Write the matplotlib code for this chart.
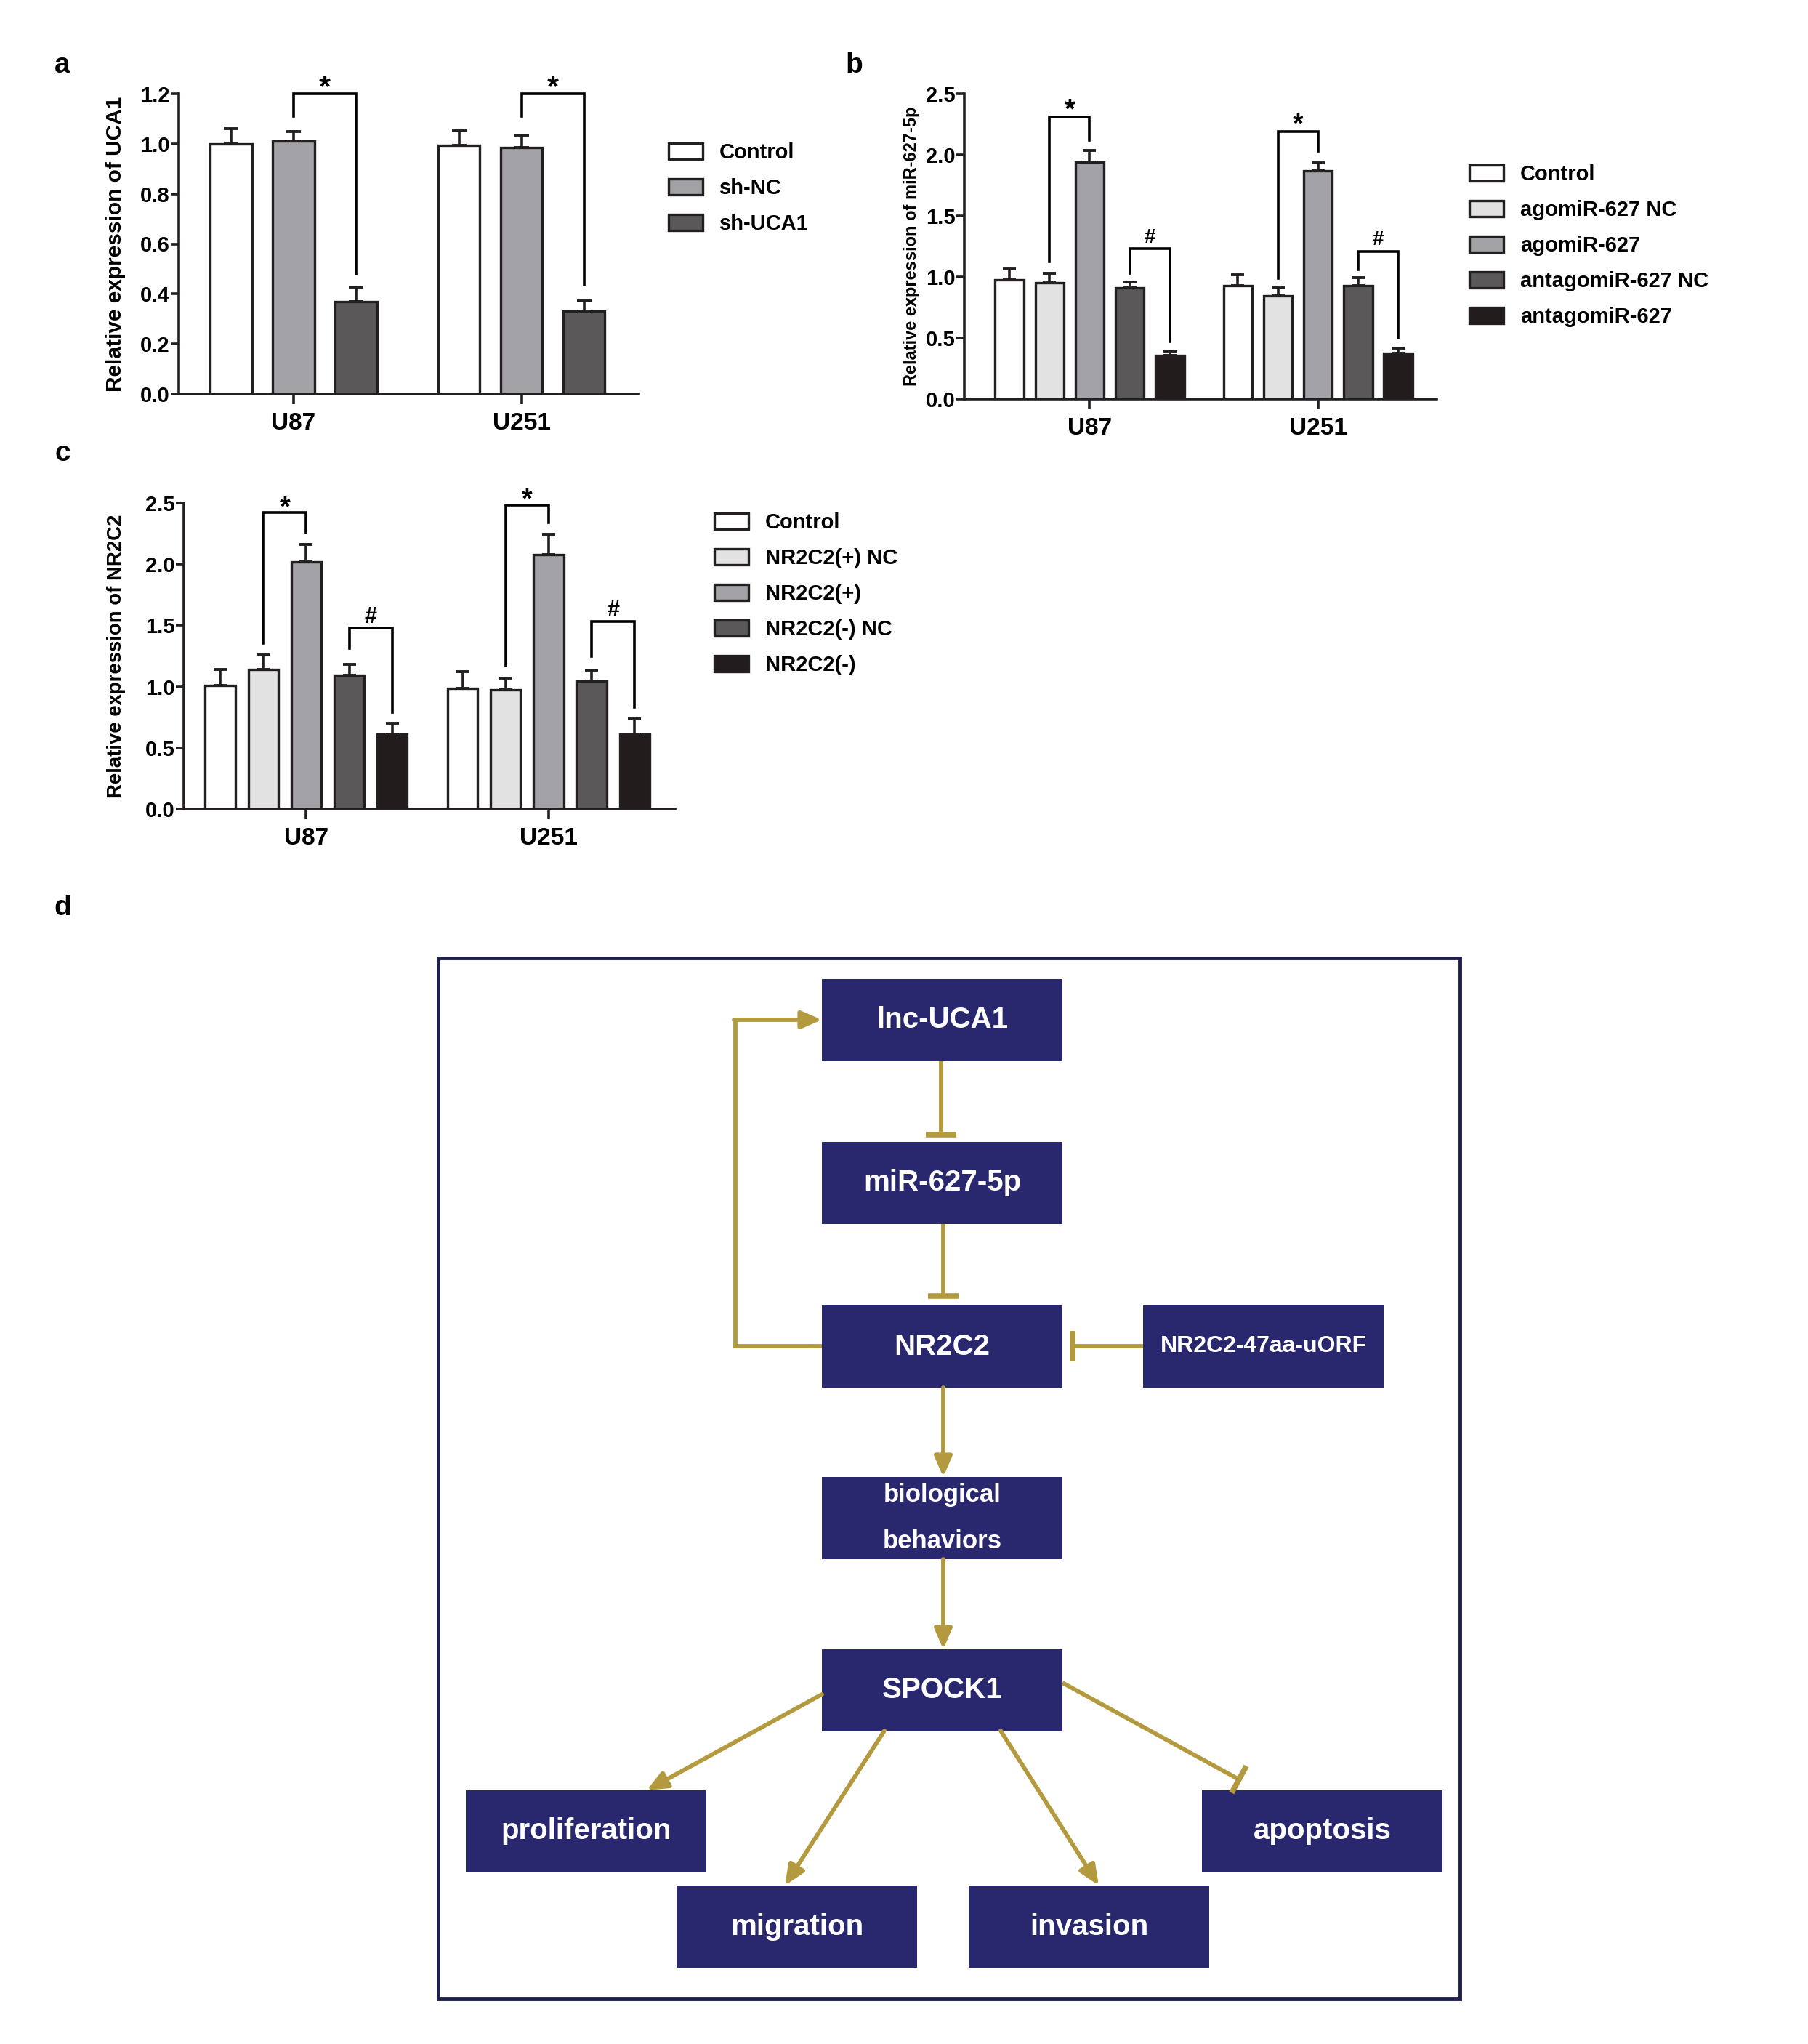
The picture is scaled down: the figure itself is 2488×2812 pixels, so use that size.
import numpy as np
import matplotlib
matplotlib.use("Agg")
import matplotlib.pyplot as plt
from matplotlib.patches import Rectangle, Patch

plt.rcParams['font.family'] = ['Liberation Sans', 'DejaVu Sans']
plt.rcParams['font.weight'] = 'bold'

W, H = 2488, 2812
DPI = 100
EDGE = "#231f20"

cell_lines = ["U87", "U251"]

# ---------------- panel a ----------------
a_labels = ["Control", "sh-NC", "sh-UCA1"]
a_u87 = [1.00, 1.01, 0.37]
a_u87_err = [0.06, 0.04, 0.058]
a_u251 = [0.995, 0.985, 0.33]
a_u251_err = [0.058, 0.05, 0.042]
a_colors = ["#ffffff", "#a3a2a6", "#5a5859"]
a_yticks = [0.0, 0.2, 0.4, 0.6, 0.8, 1.0, 1.2]
a_brackets = [(0, 1, 2, 1.2, 1.11, 0.478, "*"),
              (1, 1, 2, 1.2, 1.11, 0.436, "*")]

# ---------------- panel b ----------------
b_labels = ["Control", "agomiR-627 NC", "agomiR-627", "antagomiR-627 NC", "antagomiR-627"]
b_u87 = [0.975, 0.955, 1.94, 0.91, 0.355]
b_u87_err = [0.09, 0.075, 0.095, 0.047, 0.035]
b_u251 = [0.93, 0.845, 1.87, 0.928, 0.375]
b_u251_err = [0.087, 0.065, 0.063, 0.066, 0.042]
b_colors = ["#ffffff", "#e2e2e2", "#a3a2a6", "#5a5859", "#231c1c"]
b_yticks = [0.0, 0.5, 1.0, 1.5, 2.0, 2.5]
b_brackets = [(0, 1, 2, 2.31, 1.125, 2.12, "*"), (0, 3, 4, 1.23, 1.03, 0.47, "#"),
              (1, 1, 2, 2.19, 0.99, 2.03, "*"), (1, 3, 4, 1.21, 1.06, 0.50, "#")]

# ---------------- panel c ----------------
c_labels = ["Control", "NR2C2(+) NC", "NR2C2(+)", "NR2C2(-) NC", "NR2C2(-)"]
c_u87 = [1.01, 1.14, 2.02, 1.09, 0.61]
c_u87_err = [0.13, 0.117, 0.14, 0.094, 0.092]
c_u251 = [0.987, 0.976, 2.08, 1.048, 0.61]
c_u251_err = [0.138, 0.094, 0.162, 0.086, 0.129]
c_colors = ["#ffffff", "#e2e2e2", "#a3a2a6", "#5a5859", "#231c1c"]
c_yticks = [0.0, 0.5, 1.0, 1.5, 2.0, 2.5]
c_brackets = [(0, 1, 2, 2.42, 1.355, 2.254, "*"), (0, 3, 4, 1.48, 1.31, 0.79, "#"),
              (1, 1, 2, 2.485, 1.17, 2.338, "*"), (1, 3, 4, 1.53, 1.246, 0.833, "#")]

fig = plt.figure(figsize=(W / DPI, H / DPI), dpi=DPI)
fig.patch.set_facecolor("white")

# ---------------- panel d (diagram, pixel coordinates) ----------------
axd = fig.add_axes([0, 0, 1, 1], zorder=0)
axd.set_xlim(0, W)
axd.set_ylim(H, 0)
axd.axis("off")
axd.patch.set_alpha(0)

NAVY = "#29286f"
GOLD = "#b49a3e"

axd.add_patch(Rectangle((603, 1318), 1406, 1432, fill=False, edgecolor="#1f1f4e", lw=3.5))

BW, BH = 331, 113
boxes = [
    (1131, 1347, "lnc-UCA1", 29),
    (1131, 1571, "miR-627-5p", 29),
    (1131, 1796, "NR2C2", 29),
    (1573, 1796, "NR2C2-47aa-uORF", 23),
    (1131, 2032, "biological\n\nbehaviors", 25),
    (1131, 2269, "SPOCK1", 29),
    (641, 2463, "proliferation", 29),
    (931, 2594, "migration", 29),
    (1333, 2594, "invasion", 29),
    (1654, 2463, "apoptosis", 29),
]
for x, y, txt, fs in boxes:
    axd.add_patch(Rectangle((x, y), BW, BH, facecolor=NAVY, edgecolor="none"))
    axd.text(x + BW / 2, y + BH / 2, txt, color="white", fontsize=fs, fontweight="bold",
             ha="center", va="center", linespacing=0.95)

LW = 4.2


def line(pts):
    xs, ys = zip(*pts)
    axd.plot(xs, ys, color=GOLD, lw=LW, solid_capstyle="butt", solid_joinstyle="miter")


def arrow(p0, p1):
    axd.annotate("", xy=p1, xytext=p0,
                 arrowprops=dict(arrowstyle="-|>,head_length=0.6,head_width=0.26",
                                 color=GOLD, lw=LW, mutation_scale=28,
                                 shrinkA=0, shrinkB=0))


def tbar(p0, p1, half=21):
    line([p0, p1])
    d = np.array(p1, float) - np.array(p0, float)
    d /= np.hypot(*d)
    n = np.array([-d[1], d[0]])
    a = np.array(p1) + n * half
    b = np.array(p1) - n * half
    axd.plot([a[0], b[0]], [a[1], b[1]], color=GOLD, lw=LW * 1.3, solid_capstyle="butt")


tbar((1295, 1460), (1295, 1561))
tbar((1298, 1684), (1298, 1783))
tbar((1573, 1852), (1476, 1852))
line([(1131, 1852), (1012, 1852), (1012, 1403)])
arrow((1010, 1403), (1131, 1403))
arrow((1298, 1909), (1298, 2032))
arrow((1298, 2145), (1298, 2269))
arrow((1131, 2331), (890, 2463))
arrow((1217, 2381), (1080, 2594))
arrow((1377, 2381), (1512, 2594))
tbar((1462, 2315), (1705, 2448))

# ---------------- bar panels ----------------


def px_axes(left, top, right, bottom):
    return fig.add_axes([left / W, 1 - bottom / H, (right - left) / W, (bottom - top) / H], zorder=2)


def bar_panel(ax, labels, colors, means, errs, step, width, xlim, yticks, brackets,
              ylabel, ylabel_size, ylabel_x, capsize, sym_style, legend_xy):
    n = len(labels)
    offsets = (np.arange(n) - (n - 1) / 2) * step
    for gi in range(len(cell_lines)):
        xs = gi + offsets
        m = np.array(means[gi])
        e = np.array(errs[gi])
        ax.errorbar(xs, m, yerr=[np.zeros(n), e], fmt="none", ecolor=EDGE,
                    elinewidth=2.6, capsize=capsize, capthick=2.8, zorder=2)
        ax.bar(xs, m, width, color=colors, edgecolor=EDGE, linewidth=2.4, zorder=3)
    for gi, i, j, yt, yl, yr, sym in brackets:
        x1 = gi + offsets[i]
        x2 = gi + offsets[j]
        ax.plot([x1, x1, x2, x2], [yl, yt, yt, yr], color="black", lw=2.6,
                clip_on=False, solid_joinstyle="miter", zorder=4)
        fs, off = sym_style[sym]
        ax.annotate(sym, xy=((x1 + x2) / 2, yt), xytext=(0, off), textcoords="offset points",
                    ha="center", va="baseline", fontsize=fs, fontweight="bold",
                    annotation_clip=False)
    ax.set_xlim(*xlim)
    ax.set_ylim(yticks[0], yticks[-1])
    ax.set_xticks(range(len(cell_lines)))
    ax.set_xticklabels(cell_lines, fontsize=24, fontweight="bold")
    ax.set_yticks(yticks)
    ax.set_yticklabels([f"{t:.1f}" for t in yticks], fontsize=21, fontweight="bold")
    for s in ["top", "right"]:
        ax.spines[s].set_visible(False)
    for s in ["left", "bottom"]:
        ax.spines[s].set_linewidth(2.6)
        ax.spines[s].set_color(EDGE)
    ax.tick_params(axis="y", direction="out", length=8, width=2.6, pad=1, color=EDGE)
    ax.tick_params(axis="x", direction="out", length=10, width=2.6, pad=8, color=EDGE)
    ax.patch.set_alpha(0)
    ax.set_ylabel(ylabel, fontsize=ylabel_size, fontweight="bold")
    ax.yaxis.set_label_coords(ylabel_x, 0.5)
    handles = [Patch(facecolor=c, edgecolor=EDGE, linewidth=2.4, label=l)
               for c, l in zip(colors, labels)]
    ax.legend(handles=handles, loc="upper left",
              bbox_to_anchor=(legend_xy[0] / W, 1 - legend_xy[1] / H),
              bbox_transform=fig.transFigure, frameon=False,
              prop={"size": 21, "weight": "bold"}, handlelength=1.6, handleheight=0.75,
              handletextpad=0.8, labelspacing=0.72, borderpad=0, borderaxespad=0)


ax_a = px_axes(246, 129, 879, 542)
bar_panel(ax_a, a_labels, a_colors, [a_u87, a_u251], [a_u87_err, a_u251_err],
          step=0.274, width=0.183, xlim=(-0.503, 1.514), yticks=a_yticks,
          brackets=a_brackets, ylabel="Relative expression of UCA1", ylabel_size=21.5,
          ylabel_x=-0.115, capsize=7.5, sym_style={"*": (30, -2)}, legend_xy=(920, 196))

ax_b = px_axes(1327, 129, 1977, 549)
bar_panel(ax_b, b_labels, b_colors, [b_u87, b_u251], [b_u87_err, b_u251_err],
          step=0.1755, width=0.126, xlim=(-0.549, 1.52), yticks=b_yticks,
          brackets=b_brackets, ylabel="Relative expression of miR-627-5p", ylabel_size=17,
          ylabel_x=-0.094, capsize=6.5, sym_style={"*": (27, -1), "#": (20, 6)},
          legend_xy=(2022, 226))

ax_c = px_axes(253, 692, 929, 1113)
bar_panel(ax_c, c_labels, c_colors, [c_u87, c_u251], [c_u87_err, c_u251_err],
          step=0.1774, width=0.124, xlim=(-0.505, 1.522), yticks=c_yticks,
          brackets=c_brackets, ylabel="Relative expression of NR2C2", ylabel_size=19.8,
          ylabel_x=-0.118, capsize=6.5, sym_style={"*": (27, -3), "#": (22, 5)},
          legend_xy=(983, 705))

# panel letters
for letter, x, y in [("a", 86, 90), ("b", 1175, 90), ("c", 86, 624), ("d", 86, 1249)]:
    fig.text(x / W, 1 - y / H, letter, fontsize=28, fontweight="bold", ha="center", va="center")

fig.savefig("out.png", dpi=DPI, facecolor="white")
